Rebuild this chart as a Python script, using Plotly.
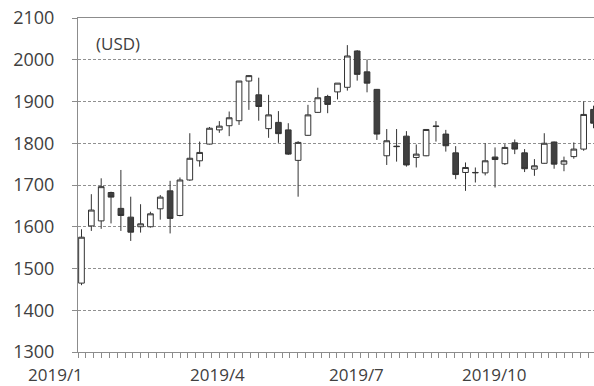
import plotly.graph_objects as go

# Weekly OHLC prices (USD)
opens = [1465, 1602, 1614, 1682, 1644, 1623, 1600, 1600, 1643, 1686,
         1627, 1712, 1758, 1798, 1832, 1842, 1854, 1949, 1916, 1835,
         1850, 1832, 1759, 1819, 1874, 1912, 1923, 1934, 2021, 1971,
         1929, 1770, 1793, 1817, 1766, 1770, 1840, 1822, 1777, 1730,
         1729, 1729, 1767, 1751, 1801, 1777, 1738, 1752, 1803, 1750,
         1768, 1786, 1881]
highs = [1594, 1678, 1716, 1684, 1736, 1672, 1654, 1636, 1676, 1710,
         1718, 1824, 1804, 1839, 1853, 1876, 1949, 1963, 1957, 1916,
         1877, 1848, 1805, 1892, 1933, 1916, 1944, 2035, 2023, 2001,
         1930, 1834, 1834, 1829, 1797, 1833, 1853, 1832, 1793, 1754,
         1742, 1800, 1790, 1798, 1809, 1786, 1762, 1824, 1804, 1768,
         1802, 1900, 1890]
lows = [1460, 1590, 1595, 1608, 1590, 1566, 1586, 1598, 1617, 1584,
        1625, 1710, 1744, 1797, 1825, 1817, 1844, 1880, 1854, 1813,
        1801, 1772, 1672, 1818, 1873, 1872, 1905, 1926, 1950, 1922,
        1808, 1748, 1756, 1744, 1742, 1769, 1804, 1780, 1714, 1686,
        1706, 1723, 1694, 1748, 1774, 1731, 1722, 1751, 1739, 1733,
        1763, 1782, 1836]
closes = [1575, 1640, 1696, 1671, 1627, 1587, 1607, 1631, 1671, 1620,
          1712, 1764, 1778, 1836, 1841, 1861, 1949, 1962, 1888, 1868,
          1823, 1774, 1802, 1868, 1909, 1893, 1944, 2009, 1965, 1944,
          1822, 1806, 1792, 1748, 1774, 1833, 1841, 1794, 1725, 1742,
          1730, 1758, 1761, 1790, 1786, 1739, 1746, 1800, 1750, 1758,
          1786, 1869, 1848]

month_labels = ["2019/1", "2019/4", "2019/7", "2019/10"]
month_label_pos = [-2.6, 13.86, 27.98, 41.9]   # in week-index units
y_ticks = [1300, 1400, 1500, 1600, 1700, 1800, 1900, 2000, 2100]

weeks = list(range(len(opens)))
x_range = [-0.355, 52.05]

AXIS_GRAY = "#8c8c8c"
TEXT = "#404040"
FONT = "Open Sans"

fig = go.Figure(
    go.Candlestick(
        x=weeks,
        open=opens,
        high=highs,
        low=lows,
        close=closes,
        increasing=dict(fillcolor="#ffffff", line=dict(color="#333333", width=1)),
        decreasing=dict(fillcolor="#404040", line=dict(color="#333333", width=1)),
        whiskerwidth=0,
        showlegend=False,
    )
)

# Month labels under the axis (placed in paper units so the first one can
# sit left of the plotting area)
span = x_range[1] - x_range[0]
for label, pos in zip(month_labels, month_label_pos):
    fig.add_annotation(
        x=(pos - x_range[0]) / span, y=0, xref="paper", yref="paper",
        xanchor="center", yanchor="middle", yshift=-22,
        text=label, showarrow=False,
        font=dict(family=FONT, size=17, color=TEXT),
    )

fig.add_annotation(
    x=0.031, y=0.965, xref="paper", yref="paper", xanchor="left", yanchor="top",
    text="(USD)", showarrow=False,
    font=dict(family=FONT, size=17, color=TEXT),
)

fig.update_layout(
    width=594,
    height=386,
    margin=dict(l=78, r=0, t=18, b=34),
    paper_bgcolor="#ffffff",
    plot_bgcolor="#ffffff",
    boxgap=0.18,
    font=dict(family=FONT, color=TEXT),
    xaxis=dict(
        range=x_range,
        rangeslider=dict(visible=False),
        showgrid=False,
        zeroline=False,
        showline=True,
        mirror=True,
        linecolor=AXIS_GRAY,
        linewidth=1,
        ticks="outside",
        ticklen=5,
        tickcolor=AXIS_GRAY,
        tick0=x_range[0],
        dtick=0.797,
        showticklabels=False,
    ),
    yaxis=dict(
        range=[1300, 2100],
        tickvals=y_ticks,
        showgrid=True,
        gridcolor="#909090",
        griddash="3px,2px",
        gridwidth=1,
        zeroline=False,
        showline=True,
        linecolor=AXIS_GRAY,
        linewidth=1,
        ticks="outside",
        ticklen=5,
        tickcolor=AXIS_GRAY,
        ticklabelstandoff=14,
        tickfont=dict(family=FONT, size=18, color=TEXT),
    ),
)

fig.write_html("out.html")
